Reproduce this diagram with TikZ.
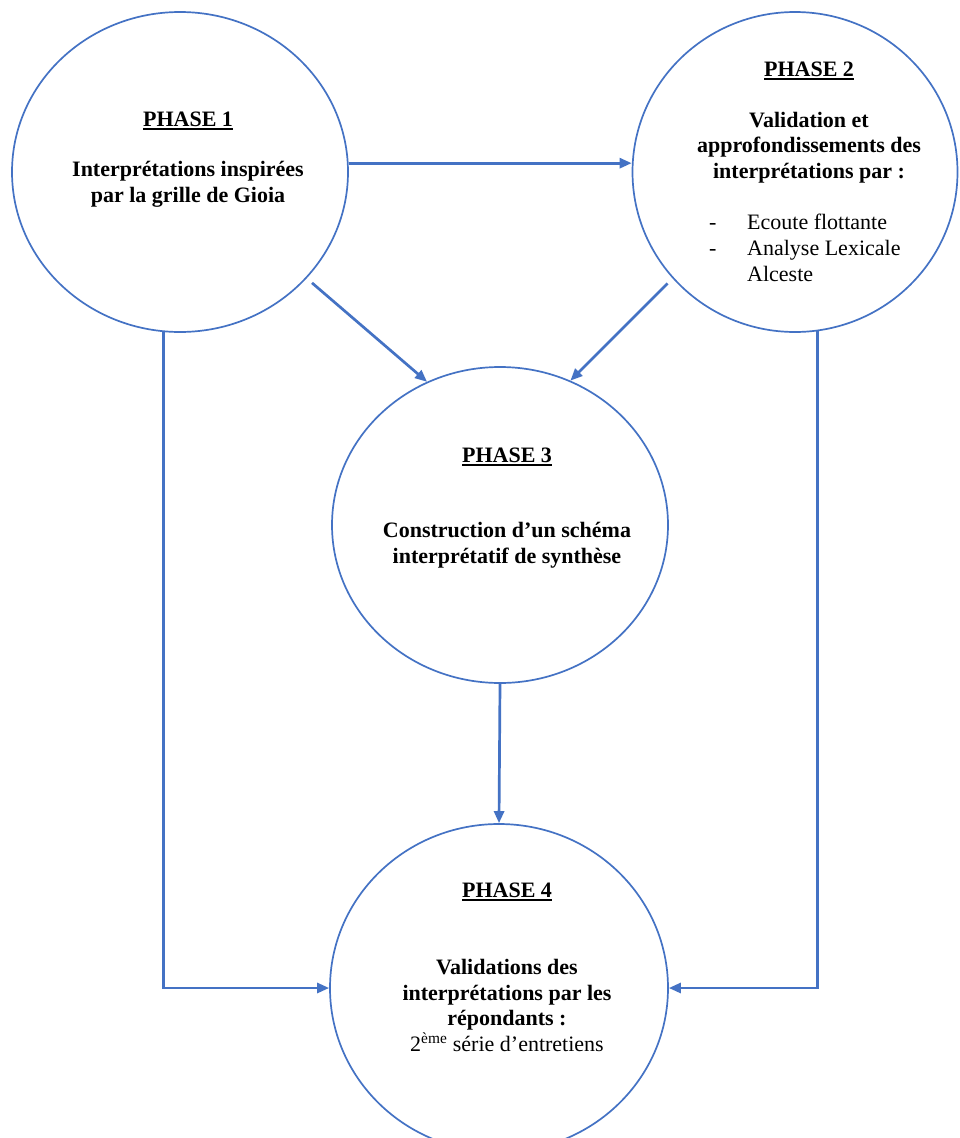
\documentclass[tikz,border=0pt]{standalone}
\usepackage{fontspec}
\setmainfont{Liberation Serif}
\usetikzlibrary{shapes.geometric,arrows.meta}
\definecolor{wblue}{HTML}{4472C4}
\newcommand\phul[1]{\setbox0\hbox{#1}\rlap{\rule[-3.8pt]{\wd0}{1.4pt}}\box0}
\begin{document}
\begin{tikzpicture}[x=1pt,y=-1pt,
  phase/.style={draw=wblue,line width=1.7pt,ellipse,inner sep=0pt},
  arr/.style={draw=wblue,line width=2.7pt,-{Triangle[length=12pt,width=10pt]}},
  ttl/.style={anchor=base,inner sep=0pt,font=\fontsize{22}{25.5}\selectfont\bfseries},
  bodyb/.style={anchor=base,inner sep=0pt,align=center,font=\fontsize{22}{25.5}\selectfont\bfseries},
  bodyr/.style={anchor=base west,inner sep=0pt,align=left,font=\fontsize{22}{26}\selectfont}]
\useasboundingbox (0,0) rectangle (959,1138);
\fill[white] (0,0) rectangle (959,1138);
% circles
\node[phase,minimum width=336pt,minimum height=320pt] (p1) at (180,172) {};
\node[phase,minimum width=325pt,minimum height=320pt] (p2) at (795,172) {};
\node[phase,minimum width=336pt,minimum height=316pt] (p3) at (500,525) {};
\node[phase,minimum width=338pt,minimum height=328pt] (p4) at (499,988) {};
% texts (base anchor = baseline of the last line)
\node[ttl] (t1a) at (188,126) {\phul{PHASE 1}};
\node[bodyb] (t1b) at (188,202) {Interprétations inspirées\\par la grille de Gioia};
\node[ttl] (t2a) at (809,76) {\phul{PHASE 2}};
\node[bodyb] (t2b) at (809,178) {Validation et\\approfondissements des\\interprétations par :};
\node[bodyr] (d1) at (709,229) {-};
\node[bodyr] (d2) at (709,255) {-};
\node[bodyr] (t2c) at (747,281) {Ecoute flottante\\Analyse Lexicale\\Alceste};
\node[ttl] (t3a) at (507,462) {\phul{PHASE 3}};
\node[bodyb] (t3b) at (507,563) {Construction d’un schéma\\interprétatif de synthèse};
\node[ttl] (t4a) at (507,897) {\phul{PHASE 4}};
\node[bodyb] (t4b) at (507,1051) {Validations des\\interprétations par les\\répondants :\\\mdseries 2\textsuperscript{ème} série d’entretiens};
% connectors
\draw[arr] (p1.3) -- (p1.3 -| p2.west);
\draw[arr,shorten <=7pt] (p1.-40) -- (p3.117);
\draw[arr,shorten <=7pt] (p2.221) -- (p3.64);
\draw[arr] (p3.south) -- (p4.north);
\draw[arr] (p1.264) |- (p4.west);
\draw[arr] (p2.278) |- (p4.east);
\end{tikzpicture}
\end{document}
